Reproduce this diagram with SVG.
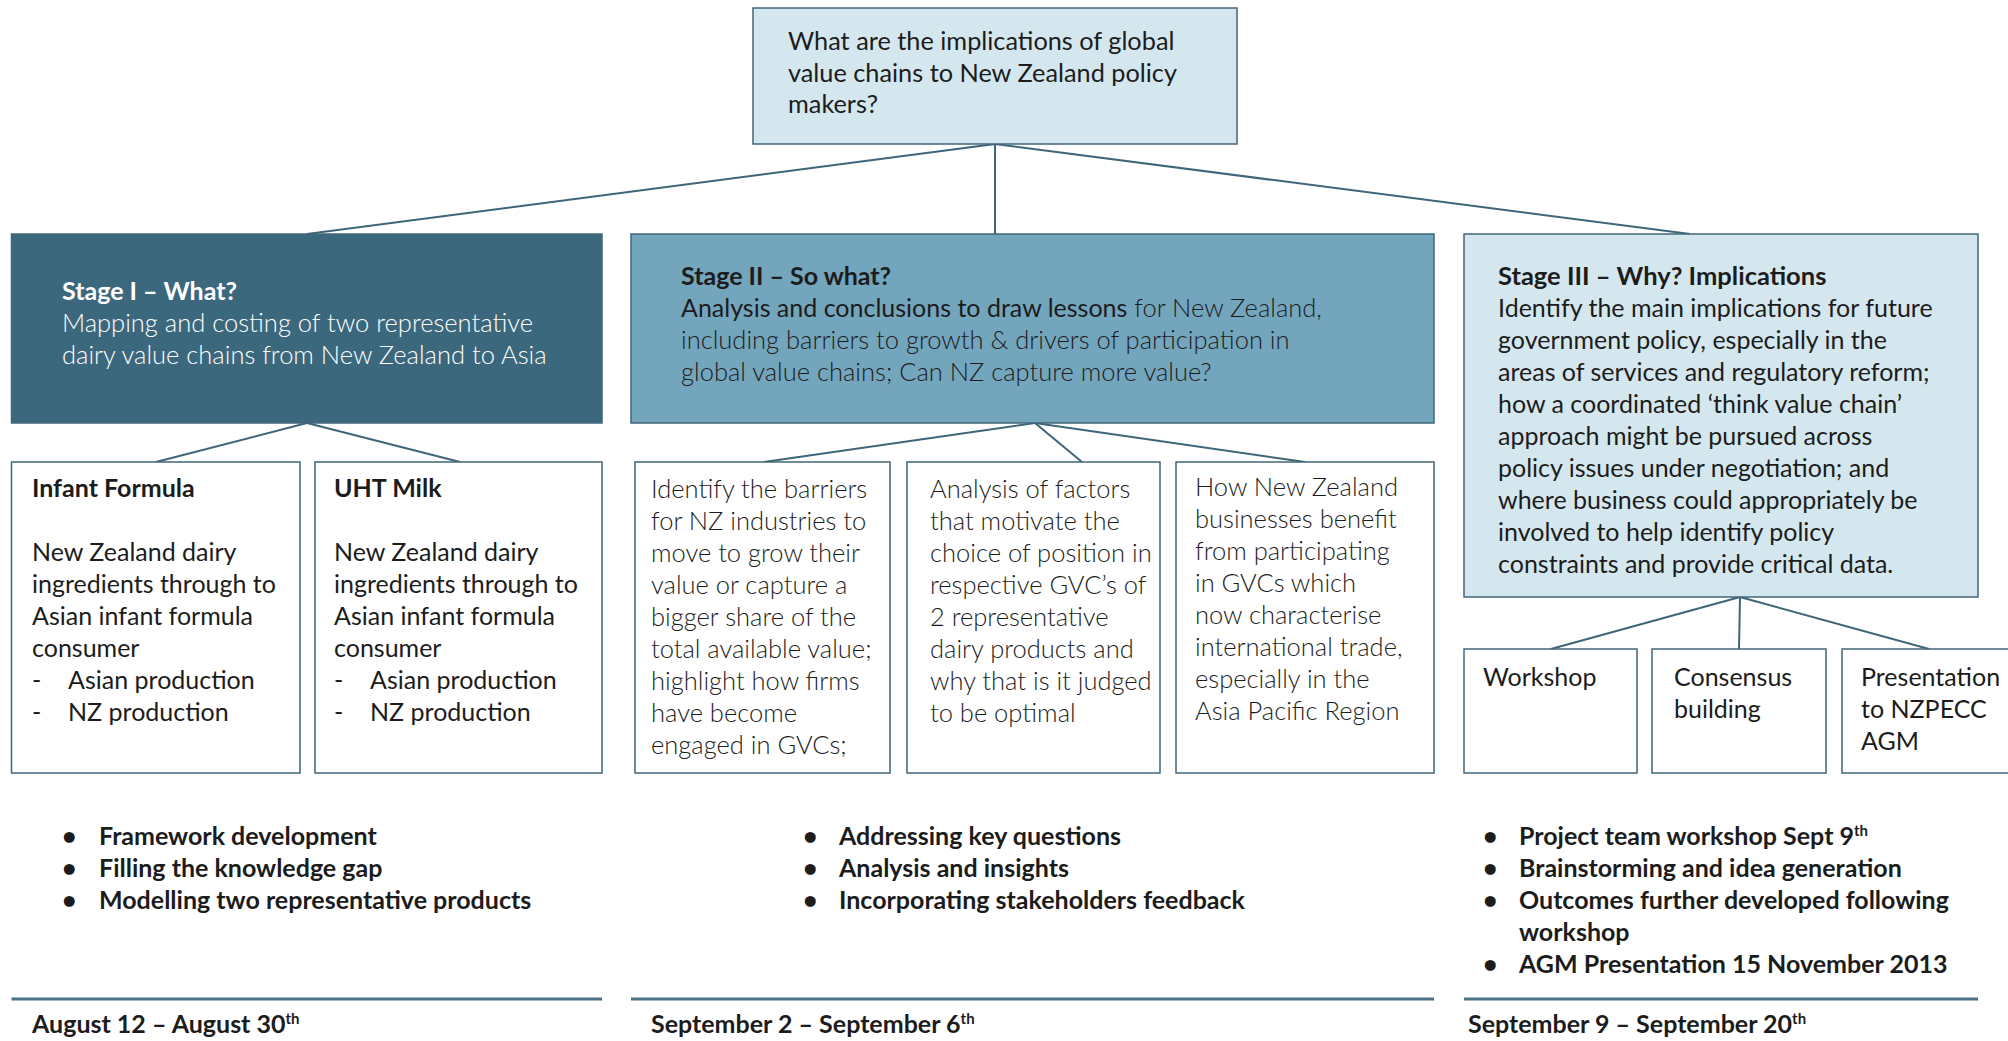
<svg xmlns="http://www.w3.org/2000/svg" width="2008" height="1041" viewBox="0 0 2008 1041">
  <style>
    text { font-family: Lato, "Open Sans", "Liberation Sans", sans-serif; font-size: 25px; fill: #1c1c1c; }
    .b { font-weight: 700; }
    .l { font-weight: 300; }
    .w { fill: #ffffff; }
    .q { font-size: 25.3px; }
    .big { font-size: 25.5px; }
    .box { stroke: #41657a; stroke-width: 1.5; }
    .pale { fill: #d5e7ee; }
    .deep { fill: #3c687e; }
    .mid { fill: #73a5bd; }
    .plain { fill: #ffffff; }
    .conn line { stroke: #3f6578; stroke-width: 2; }
    .rule { stroke: #4b7287; stroke-width: 3; }
    .sup { font-size: 15px; }
  </style>

  <rect x="0" y="0" width="2008" height="1041" fill="#ffffff"/>

  <!-- connectors -->
  <g id="connectors" class="conn">
    <line x1="995" y1="144" x2="307" y2="234"/>
    <line x1="995" y1="144" x2="995" y2="234"/>
    <line x1="995" y1="144" x2="1690" y2="234"/>
    <line x1="307" y1="423" x2="156" y2="462"/>
    <line x1="307" y1="423" x2="460" y2="462"/>
    <line x1="1035" y1="423" x2="764" y2="462"/>
    <line x1="1035" y1="423" x2="1082" y2="462"/>
    <line x1="1035" y1="423" x2="1305" y2="462"/>
    <line x1="1740" y1="597" x2="1551" y2="649"/>
    <line x1="1740" y1="597" x2="1739" y2="649"/>
    <line x1="1740" y1="597" x2="1929" y2="649"/>
  </g>

  <!-- central question -->
  <g id="question">
    <rect class="box pale" x="753" y="8" width="484" height="136"/>
    <text class="q" x="788" y="50">What are the implications of global</text>
    <text class="q" x="788" y="82">value chains to New Zealand policy</text>
    <text class="q" x="788" y="113">makers?</text>
  </g>

  <!-- stage I -->
  <g id="stage1">
    <rect class="box deep" x="11.5" y="234" width="590.5" height="189"/>
    <text class="b w" x="62" y="300">Stage I – What?</text>
    <text class="l w big" x="62" y="332">Mapping and costing of two representative</text>
    <text class="l w big" x="62" y="364">dairy value chains from New Zealand to Asia</text>
  </g>

  <!-- stage II -->
  <g id="stage2">
    <rect class="box mid" x="631" y="234" width="803" height="189"/>
    <text class="b" x="681" y="285">Stage II – So what?</text>
    <text x="681" y="317">Analysis and conclusions to draw lessons<tspan class="l big"> for New Zealand,</tspan></text>
    <text class="l big" x="681" y="349">including barriers to growth &amp; drivers of participation in</text>
    <text class="l big" x="681" y="381">global value chains; Can NZ capture more value?</text>
  </g>

  <!-- stage III -->
  <g id="stage3">
    <rect class="box pale" x="1464" y="234" width="514" height="363"/>
    <text class="b big" x="1498" y="285">Stage III – Why? Implications</text>
    <text x="1498" y="317">Identify the main implications for future</text>
    <text x="1498" y="349">government policy, especially in the</text>
    <text x="1498" y="381">areas of services and regulatory reform;</text>
    <text x="1498" y="413">how a coordinated ‘think value chain’</text>
    <text x="1498" y="445">approach might be pursued across</text>
    <text x="1498" y="477">policy issues under negotiation; and</text>
    <text x="1498" y="509">where business could appropriately be</text>
    <text x="1498" y="541">involved to help identify policy</text>
    <text x="1498" y="573">constraints and provide critical data.</text>
  </g>

  <!-- stage I products -->
  <g id="infant-formula">
    <rect class="box plain" x="11.5" y="462" width="288.5" height="311"/>
    <text class="b" x="32" y="497">Infant Formula</text>
    <text x="32" y="561">New Zealand dairy</text>
    <text x="32" y="593">ingredients through to</text>
    <text x="32" y="625">Asian infant formula</text>
    <text x="32" y="657">consumer</text>
    <text x="32" y="689">-</text><text x="68" y="689">Asian production</text>
    <text x="32" y="721">-</text><text x="68" y="721">NZ production</text>
  </g>
  <g id="uht-milk">
    <rect class="box plain" x="315" y="462" width="287" height="311"/>
    <text class="b" x="334" y="497">UHT Milk</text>
    <text x="334" y="561">New Zealand dairy</text>
    <text x="334" y="593">ingredients through to</text>
    <text x="334" y="625">Asian infant formula</text>
    <text x="334" y="657">consumer</text>
    <text x="334" y="689">-</text><text x="370" y="689">Asian production</text>
    <text x="334" y="721">-</text><text x="370" y="721">NZ production</text>
  </g>

  <!-- stage II questions -->
  <g id="barriers">
    <rect class="box plain" x="635" y="462" width="255" height="311"/>
    <text class="l big" x="651" y="498">Identify the barriers</text>
    <text class="l big" x="651" y="530">for NZ industries to</text>
    <text class="l big" x="651" y="562">move to grow their</text>
    <text class="l big" x="651" y="594">value or capture a</text>
    <text class="l big" x="651" y="626">bigger share of the</text>
    <text class="l big" x="651" y="658">total available value;</text>
    <text class="l big" x="651" y="690">highlight how firms</text>
    <text class="l big" x="651" y="722">have become</text>
    <text class="l big" x="651" y="754">engaged in GVCs;</text>
  </g>
  <g id="factors">
    <rect class="box plain" x="907" y="462" width="253" height="311"/>
    <text class="l big" x="930" y="498">Analysis of factors</text>
    <text class="l big" x="930" y="530">that motivate the</text>
    <text class="l big" x="930" y="562">choice of position in</text>
    <text class="l big" x="930" y="594">respective GVC’s of</text>
    <text class="l big" x="930" y="626">2 representative</text>
    <text class="l big" x="930" y="658">dairy products and</text>
    <text class="l big" x="930" y="690">why that is it judged</text>
    <text class="l big" x="930" y="722">to be optimal</text>
  </g>
  <g id="benefits">
    <rect class="box plain" x="1176" y="462" width="258" height="311"/>
    <text class="l big" x="1195" y="496">How New Zealand</text>
    <text class="l big" x="1195" y="528">businesses benefit</text>
    <text class="l big" x="1195" y="560">from participating</text>
    <text class="l big" x="1195" y="592">in GVCs which</text>
    <text class="l big" x="1195" y="624">now characterise</text>
    <text class="l big" x="1195" y="656">international trade,</text>
    <text class="l big" x="1195" y="688">especially in the</text>
    <text class="l big" x="1195" y="720">Asia Pacific Region</text>
  </g>

  <!-- stage III activities -->
  <g id="workshop">
    <rect class="box plain" x="1464" y="649" width="173" height="124"/>
    <text x="1483" y="686">Workshop</text>
  </g>
  <g id="consensus">
    <rect class="box plain" x="1652" y="649" width="174" height="124"/>
    <text x="1674" y="686">Consensus</text>
    <text x="1674" y="718">building</text>
  </g>
  <g id="presentation">
    <rect class="box plain" x="1842" y="649" width="200" height="124"/>
    <text x="1861" y="686">Presentation</text>
    <text x="1861" y="718">to NZPECC</text>
    <text x="1861" y="750">AGM</text>
  </g>

  <!-- activity lists -->
  <g id="tasks1">
    <text class="b" x="62" y="845">•</text><text class="b" x="99" y="845">Framework development</text>
    <text class="b" x="62" y="877">•</text><text class="b" x="99" y="877">Filling the knowledge gap</text>
    <text class="b" x="62" y="909">•</text><text class="b" x="99" y="909">Modelling two representative products</text>
  </g>
  <g id="tasks2">
    <text class="b" x="803" y="845">•</text><text class="b" x="839" y="845">Addressing key questions</text>
    <text class="b" x="803" y="877">•</text><text class="b" x="839" y="877">Analysis and insights</text>
    <text class="b" x="803" y="909">•</text><text class="b" x="839" y="909">Incorporating stakeholders feedback</text>
  </g>
  <g id="tasks3">
    <text class="b" x="1483" y="845">•</text><text class="b" x="1519" y="845">Project team workshop Sept 9<tspan class="sup" dy="-9">th</tspan></text>
    <text class="b" x="1483" y="877">•</text><text class="b" x="1519" y="877">Brainstorming and idea generation</text>
    <text class="b" x="1483" y="909">•</text><text class="b" x="1519" y="909">Outcomes further developed following</text>
    <text class="b" x="1519" y="941">workshop</text>
    <text class="b" x="1483" y="973">•</text><text class="b" x="1519" y="973">AGM Presentation 15 November 2013</text>
  </g>

  <!-- timeline -->
  <g id="period1">
    <line class="rule" x1="11.5" y1="999" x2="602" y2="999"/>
    <text class="b" x="32" y="1033">August 12 – August 30<tspan class="sup" dy="-9">th</tspan></text>
  </g>
  <g id="period2">
    <line class="rule" x1="631" y1="999" x2="1434" y2="999"/>
    <text class="b" x="651" y="1033">September 2 – September 6<tspan class="sup" dy="-9">th</tspan></text>
  </g>
  <g id="period3">
    <line class="rule" x1="1464" y1="999" x2="1978" y2="999"/>
    <text class="b" x="1468" y="1033">September 9 – September 20<tspan class="sup" dy="-9">th</tspan></text>
  </g>
</svg>
